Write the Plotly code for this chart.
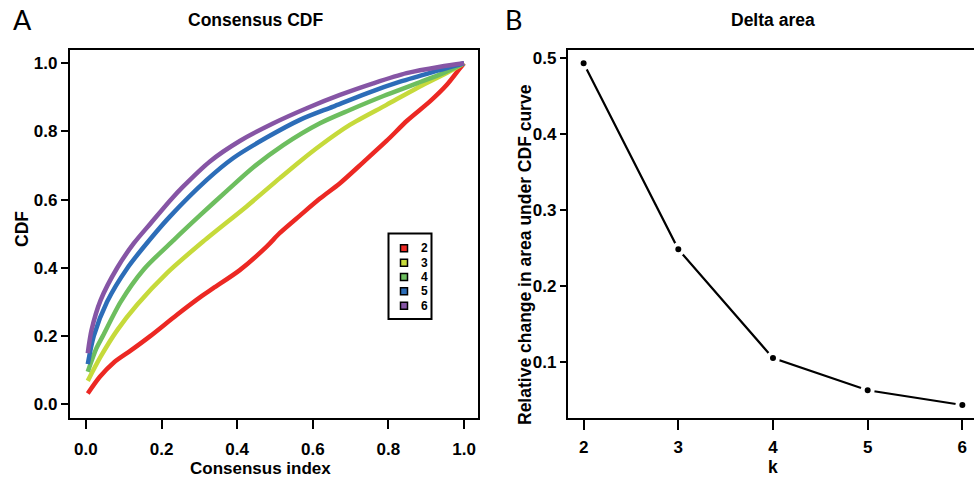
import plotly.graph_objects as go

# ---------------- Data ----------------
k_labels = ["2", "3", "4", "5", "6"]
cdf_colors = ["#EC2823", "#C6DA3B", "#6DBE5F", "#2C6DB8", "#8655A5"]

x_k2 = [0.005, 0.037, 0.074, 0.120, 0.171, 0.241, 0.308, 0.337, 0.407, 0.478, 0.513, 0.566, 0.619, 0.672, 0.734, 0.795, 0.850, 0.910, 0.954, 0.989, 1.0]
y_k2 = [0.031, 0.080, 0.122, 0.158, 0.200, 0.262, 0.318, 0.340, 0.393, 0.462, 0.502, 0.553, 0.603, 0.648, 0.710, 0.772, 0.832, 0.888, 0.936, 0.985, 1.0]

x_k3 = [0.005, 0.039, 0.083, 0.136, 0.215, 0.310, 0.425, 0.513, 0.566, 0.619, 0.698, 0.795, 0.875, 0.945, 1.0]
y_k3 = [0.068, 0.139, 0.217, 0.292, 0.385, 0.477, 0.580, 0.663, 0.712, 0.758, 0.819, 0.878, 0.927, 0.966, 1.0]

x_k4 = [0.005, 0.028, 0.045, 0.092, 0.153, 0.233, 0.303, 0.372, 0.443, 0.522, 0.619, 0.698, 0.787, 0.875, 0.945, 1.0]
y_k4 = [0.095, 0.164, 0.200, 0.300, 0.395, 0.482, 0.555, 0.625, 0.695, 0.760, 0.824, 0.863, 0.904, 0.941, 0.971, 1.0]

x_k5 = [0.005, 0.021, 0.056, 0.109, 0.171, 0.222, 0.319, 0.390, 0.478, 0.566, 0.654, 0.743, 0.831, 0.919, 1.0]
y_k5 = [0.117, 0.200, 0.300, 0.398, 0.485, 0.550, 0.657, 0.722, 0.782, 0.834, 0.873, 0.912, 0.946, 0.975, 1.0]

x_k6 = [0.005, 0.015, 0.039, 0.083, 0.127, 0.171, 0.224, 0.257, 0.328, 0.407, 0.496, 0.584, 0.672, 0.760, 0.848, 0.937, 1.0]
y_k6 = [0.149, 0.217, 0.305, 0.400, 0.472, 0.530, 0.599, 0.638, 0.712, 0.772, 0.824, 0.868, 0.907, 0.941, 0.971, 0.990, 1.0]

cdf_x = [x_k2, x_k3, x_k4, x_k5, x_k6]
cdf_y = [y_k2, y_k3, y_k4, y_k5, y_k6]

delta_k = [2, 3, 4, 5, 6]
delta_area = [0.4926, 0.248, 0.105, 0.0628, 0.0434]

cdf_ticks = [0.0, 0.2, 0.4, 0.6, 0.8, 1.0]
cdf_ticklabels = ["0.0", "0.2", "0.4", "0.6", "0.8", "1.0"]
delta_yticks = [0.1, 0.2, 0.3, 0.4, 0.5]
delta_yticklabels = ["0.1", "0.2", "0.3", "0.4", "0.5"]

# ---------------- Figure ----------------
W, H = 974, 480
FONT = "Liberation Sans, Arial, sans-serif"

fig = go.Figure()

for xs, ys, c, lab in zip(cdf_x, cdf_y, cdf_colors, k_labels):
    fig.add_trace(go.Scatter(x=xs, y=ys, mode="lines", name=lab,
                             line=dict(color=c, width=4.5, shape="spline", smoothing=0.8),
                             xaxis="x", yaxis="y", showlegend=False))

fig.add_trace(go.Scatter(x=delta_k, y=delta_area, mode="lines+markers",
                         line=dict(color="black", width=2.2),
                         marker=dict(color="black", size=10, line=dict(color="white", width=4)),
                         xaxis="x2", yaxis="y2", showlegend=False, cliponaxis=False))

def px2fx(p):
    return p / W

def px2fy(p):
    return 1 - p / H

tickfont = dict(family=FONT, size=17, color="black", weight="bold")

common = dict(showgrid=False, zeroline=False, showline=True, linecolor="black",
              linewidth=2.2, ticks="outside", tickwidth=2, tickcolor="black",
              tickfont=tickfont, automargin=False)

fig.update_layout(
    width=W, height=H,
    margin=dict(l=0, r=0, t=0, b=0),
    paper_bgcolor="white", plot_bgcolor="white",
    showlegend=False,
    xaxis=dict(domain=[px2fx(70), px2fx(478)], range=[-0.042, 1.037],
               tickvals=cdf_ticks, ticktext=cdf_ticklabels,
               mirror=True, ticklen=9, ticklabelstandoff=5, anchor="y", **common),
    yaxis=dict(domain=[px2fy(418), px2fy(50)], range=[-0.041, 1.039],
               tickvals=cdf_ticks, ticktext=cdf_ticklabels,
               mirror=True, ticklen=7, anchor="x", **common),
    xaxis2=dict(domain=[px2fx(568), 1.0], range=[1.835, 6.123],
                tickvals=delta_k, ticktext=[str(k) for k in delta_k],
                mirror=True, ticklen=10, ticklabelstandoff=2, anchor="y2", **common),
    yaxis2=dict(domain=[px2fy(418), px2fy(50)], range=[0.0263, 0.510],
                tickvals=delta_yticks, ticktext=delta_yticklabels,
                mirror=False, ticklen=6, anchor="x2", **common),
)

def ann(text, x, y, size, bold=True, angle=0, family=FONT):
    fig.add_annotation(text=f"<b>{text}</b>" if bold else text,
                       x=px2fx(x), y=px2fy(y), xref="paper", yref="paper",
                       showarrow=False, textangle=angle, borderpad=0,
                       font=dict(family=family, size=size, color="black"),
                       xanchor="center", yanchor="middle")

ann("Consensus CDF", 255, 20, 17.5)
ann("Delta area", 773, 20, 17.5)
ann("A", 22, 20, 27, bold=False, family="Lato, sans-serif")
ann("B", 513, 20, 27, bold=False, family="Lato, sans-serif")
ann("Consensus index", 260, 468, 17)
ann("k", 773, 467, 17.5)
ann("CDF", 22, 229, 17.5, angle=-90)
ann("Relative change in area under CDF curve", 525, 255, 17.5, angle=-90)

# ---------------- Legend (box, swatches, labels) ----------------
fig.add_shape(type="rect", xref="paper", yref="paper",
              x0=px2fx(388.5), x1=px2fx(431.5), y0=px2fy(319), y1=px2fy(233.5),
              line=dict(color="black", width=2), fillcolor="white")
for i, (c, lab) in enumerate(zip(cdf_colors, k_labels)):
    cy = 248.3 + i * 14.35
    fig.add_shape(type="rect", xref="paper", yref="paper",
                  x0=px2fx(400.5), x1=px2fx(407.5), y0=px2fy(cy + 3.5), y1=px2fy(cy - 3.5),
                  line=dict(color="black", width=1.5), fillcolor=c)
    fig.add_annotation(text=f"<b>{lab}</b>", x=px2fx(418.5), y=px2fy(cy),
                       xref="paper", yref="paper", showarrow=False,
                       font=dict(family=FONT, size=12, color="black"),
                       xanchor="left", yanchor="middle")

fig.write_html("out.html",
               config={"displayModeBar": False},
               post_script="document.body.style.margin='0px';document.body.style.overflow='hidden';")
